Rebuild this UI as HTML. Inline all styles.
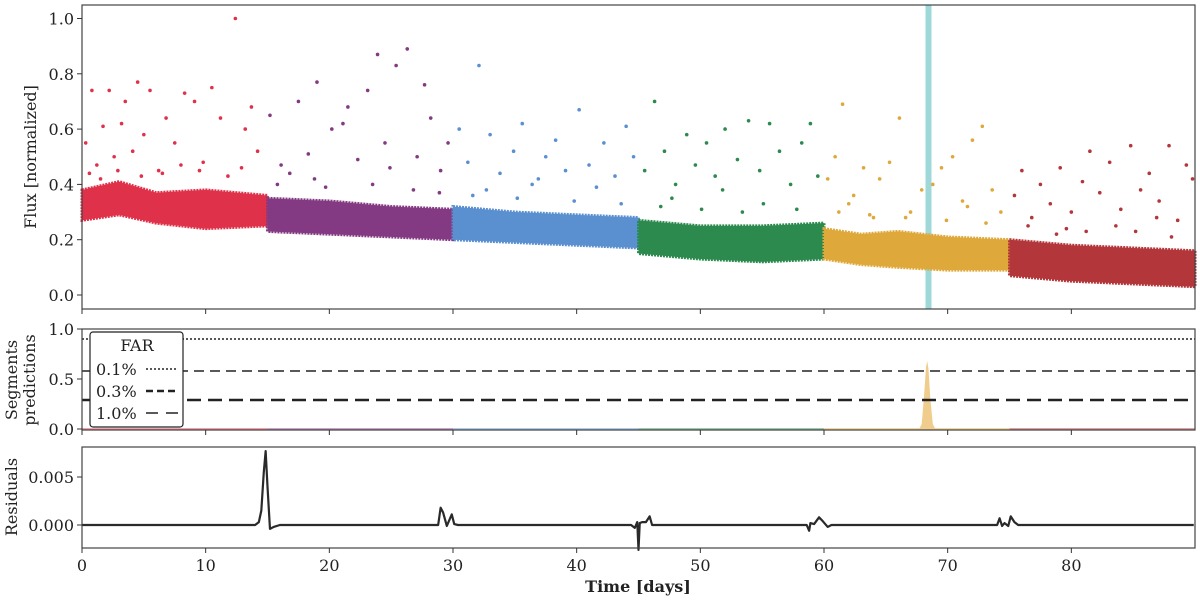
<!DOCTYPE html>
<html><head><meta charset="utf-8"><style>
body{margin:0;background:#fff}
svg text{font-family:"DejaVu Serif","Liberation Serif",serif;fill:#222}
</style></head><body>
<svg id="c" width="1200" height="601" viewBox="0 0 1200 601"></svg>
<script>
const segStarts=[0,15,30,45,60,75];
const segEnds=[15,30,45,60,75,90];
const segColors=["#e0314a","#843a82","#5a8fd0","#2d8a4e","#dea83a","#b3363a"];
const bandTopT=[[0,3,6,10,15],[15,20,25,30],[30,35,40,45],[45,50,55,60],[60,63,66,70,75],[75,80,85,90]];
const bandTopF=[[0.38,0.41,0.37,0.38,0.36],[0.35,0.34,0.32,0.31],[0.32,0.30,0.29,0.28],[0.27,0.25,0.25,0.26],[0.24,0.22,0.23,0.21,0.20],[0.20,0.18,0.17,0.16]];
const bandBotF=[[0.27,0.29,0.26,0.24,0.25],[0.23,0.22,0.21,0.20],[0.20,0.19,0.18,0.17],[0.15,0.13,0.12,0.13],[0.13,0.11,0.10,0.09,0.09],[0.07,0.05,0.04,0.03]];
const outliersT=[[0.3,0.8,1.2,1.7,2.2,2.6,3.5,4.1,4.5,5.5,6.2,6.8,7.5,8.3,9.1,9.8,10.5,11.2,12.4,13.2,13.7,14.2,1.5,5,8,11.8,3.2,0.6,2.9,4.8,6.5,9.5,12.9],
[15.2,16.1,17.5,18.3,19.0,20.2,21.5,22.3,23.1,23.9,24.5,25.4,26.3,27.1,28.2,29.0,29.6,18.8,21.1,24.9,27.7,16.8,15.8,19.7,23.5,26.8,28.9],
[30.5,31.2,32.1,33.0,33.8,34.9,35.6,36.4,37.5,38.3,39.1,40.2,41.0,42.2,43.1,44.0,44.6,32.7,36.9,41.6,31.6,35.2,39.8,43.6],
[45.5,46.3,47.1,48.0,48.9,49.6,50.5,51.2,52.0,53.0,53.9,54.8,55.6,56.4,57.3,58.2,58.9,59.5,47.7,51.8,55.1,46.8,50.1,53.4,57.8],
[60.3,60.9,61.5,62.4,63.2,64.5,65.3,66.1,67.0,67.9,68.8,69.5,70.4,71.2,72.0,72.8,73.6,74.3,62.0,64.0,71.6,61.2,63.7,66.6,69.9,73.1],
[75.4,76.0,76.8,77.5,78.3,79.1,80.0,80.9,81.5,82.3,83.1,84.0,84.8,85.6,86.3,87.1,87.9,88.6,89.3,89.8,78.8,83.6,86.9,79.6,85.2,76.5,81.2,88.1]];
const outliersF=[[0.55,0.74,0.47,0.61,0.74,0.50,0.70,0.52,0.77,0.74,0.45,0.64,0.55,0.73,0.70,0.48,0.75,0.64,1.0,0.60,0.68,0.52,0.42,0.58,0.47,0.43,0.62,0.44,0.45,0.43,0.44,0.45,0.46],
[0.65,0.47,0.70,0.51,0.77,0.60,0.68,0.49,0.74,0.87,0.55,0.83,0.89,0.50,0.64,0.45,0.55,0.42,0.62,0.46,0.76,0.44,0.40,0.39,0.40,0.38,0.37],
[0.60,0.48,0.83,0.58,0.44,0.52,0.62,0.40,0.50,0.56,0.45,0.67,0.47,0.55,0.43,0.61,0.50,0.38,0.42,0.39,0.36,0.35,0.34,0.33],
[0.45,0.70,0.52,0.40,0.58,0.47,0.55,0.43,0.60,0.49,0.63,0.45,0.62,0.52,0.40,0.55,0.62,0.43,0.35,0.38,0.33,0.32,0.31,0.30,0.31],
[0.42,0.50,0.69,0.36,0.46,0.42,0.48,0.64,0.30,0.38,0.40,0.46,0.50,0.34,0.56,0.61,0.38,0.30,0.33,0.28,0.32,0.30,0.29,0.28,0.27,0.26],
[0.36,0.45,0.28,0.40,0.33,0.46,0.30,0.41,0.52,0.37,0.48,0.31,0.54,0.38,0.44,0.34,0.54,0.27,0.47,0.42,0.22,0.25,0.28,0.24,0.23,0.25,0.23,0.21]];
const predPeakT=[67.7,67.9,68.1,68.25,68.35,68.45,68.6,68.8,69.0];
const predPeakV=[0,0.05,0.35,0.62,0.68,0.6,0.3,0.05,0];
const farLevels=[0.9,0.58,0.29];
const farLabels=["0.1%","0.3%","1.0%"];
const flagT=68.45;
const resT=[0,14.0,14.3,14.5,14.7,14.85,15.0,15.2,15.5,16.0,28.8,29.0,29.2,29.5,29.7,29.9,30.1,30.4,30.6,44.4,44.7,44.9,45.0,45.1,45.3,45.6,45.9,46.1,58.6,58.8,58.9,59.2,59.6,59.9,60.3,60.6,61.0,74.0,74.2,74.4,74.6,74.9,75.1,75.4,75.7,89.9];
const resV=[0,0,0.0003,0.0015,0.0055,0.0077,0.004,-0.0004,-0.0002,0,0,0.0018,0.0013,-0.0001,0.0005,0.0011,0.0001,0,0,0,-0.0003,0.0003,-0.0026,0.0002,0.0003,0.0003,0.0009,0,0,-0.0006,0.0002,0.0001,0.0008,0.0004,-0.0002,0,0,0,0.0007,-0.0001,0.0002,-0.0001,0.0009,0.0003,0,0];
const xTicks=[0,10,20,30,40,50,60,70,80];
const fluxTicks=["0.0","0.2","0.4","0.6","0.8","1.0"];
const predTicks=["0.0","0.5","1.0"];
const resTicks=["0.000","0.005"];

const svg=document.getElementById('c');const NS="http://www.w3.org/2000/svg";
function mk(tag,at,parent){const e=document.createElementNS(NS,tag);for(const k in at)e.setAttribute(k,at[k]);(parent||svg).appendChild(e);return e;}
const X0=82,X1=1195;
const sx=t=>X0+(t/90)*(X1-X0);
const P1={top:5,bot:309,y:f=>295-f*276.5};
const P2={top:329,bot:430,y:v=>429-v*100};
const P3={top:447,bot:548,y:r=>525-r*9600};

let e=mk('rect',{x:sx(flagT)-3,y:P1.top,width:6,height:P1.bot-P1.top,fill:"#9ed8d8"});

for(let s=0;s<6;s++){
  const T=bandTopT[s];let pts=[];
  for(let i=0;i<T.length;i++)pts.push(sx(T[i])+","+P1.y(bandTopF[s][i]));
  for(let i=T.length-1;i>=0;i--)pts.push(sx(T[i])+","+P1.y(bandBotF[s][i]));
  e=mk('polygon',{points:pts.join(" "),fill:segColors[s],stroke:segColors[s],"stroke-width":3,"stroke-dasharray":"2 1"});
  
  for(let i=0;i<outliersT[s].length;i++){
    e=mk('circle',{cx:sx(outliersT[s][i]),cy:P1.y(outliersF[s][i]),r:1.8,fill:segColors[s]});
    
  }
}
for(let s=0;s<6;s++){
  e=mk('line',{x1:sx(segStarts[s]),x2:sx(segEnds[s]),y1:P2.y(0),y2:P2.y(0),stroke:segColors[s],"stroke-width":1.5,opacity:0.6});
  
}
e=mk('polygon',{points:predPeakT.map((t,i)=>sx(t)+","+P2.y(predPeakV[i])).join(" "),fill:"#f0cd8c"});

const dashes=["2 2","10 6","14 7"],widths=[1.5,1.5,2.5];
for(let i=0;i<3;i++){
  e=mk('line',{x1:X0,x2:X1,y1:P2.y(farLevels[i]),y2:P2.y(farLevels[i]),stroke:"#222","stroke-width":widths[i],"stroke-dasharray":dashes[i]});
  
}
e=mk('polyline',{points:resT.map((t,i)=>sx(t)+","+P3.y(resV[i])).join(" "),fill:"none",stroke:"#2a2a2a","stroke-width":2.2,"stroke-linejoin":"round"});


[P1,P2,P3].forEach((p,pi)=>{
  e=mk('rect',{x:X0,y:p.top,width:X1-X0,height:p.bot-p.top,fill:"none",stroke:"#444","stroke-width":1.2});
  
  xTicks.forEach(t=>{
    e=mk('line',{x1:sx(t),x2:sx(t),y1:p.bot,y2:p.bot+5,stroke:"#333"});
    
  });
});
xTicks.forEach(t=>{
  e=mk('text',{x:sx(t),y:571,"font-size":16,"text-anchor":"middle"});e.textContent=t;
  
});
function yt(p,labels,val){labels.forEach(l=>{const y=p.y(val(l));
  let a=mk('line',{x1:X0-5,x2:X0,y1:y,y2:y,stroke:"#333"});
  
  a=mk('text',{x:X0-8,y:y+6,"font-size":16,"text-anchor":"end"});a.textContent=l;
  });}
yt(P1,fluxTicks,parseFloat);yt(P2,predTicks,parseFloat);yt(P3,resTicks,parseFloat);
function yl(txt,cx,cy,name){const a=mk('text',{x:0,y:0,"font-size":16,"text-anchor":"middle",transform:`translate(${cx},${cy}) rotate(-90)`});a.textContent=txt;
  }
yl("Flux [normalized]",36,157,'flux-axis-title');
yl("Segments",17,380,'predictions-axis-title-1');
yl("predictions",35,380,'predictions-axis-title-2');
yl("Residuals",17,497,'residuals-axis-title');
e=mk('text',{x:638,y:592,"font-size":16,"text-anchor":"middle","font-weight":"bold"});e.textContent="Time [days]";

const lg=mk('g',{});
mk('rect',{x:90,y:332,width:93,height:95,rx:3,fill:"#fff",stroke:"#222","stroke-width":1.2},lg);
let t=mk('text',{x:137,y:351,"font-size":16,"text-anchor":"middle"},lg);t.textContent="FAR";
const lgDash=["2 2","7 4","12 8"],lgW=[1.5,2.5,1.5];
for(let i=0;i<3;i++){const y=369+i*22;
  t=mk('text',{x:96,y:y+6,"font-size":16},lg);t.textContent=farLabels[i];
  
  t=mk('line',{x1:146,x2:178,y1:y,y2:y,stroke:"#222","stroke-width":lgW[i],"stroke-dasharray":lgDash[i]},lg);
  
}
</script>
</body></html>
